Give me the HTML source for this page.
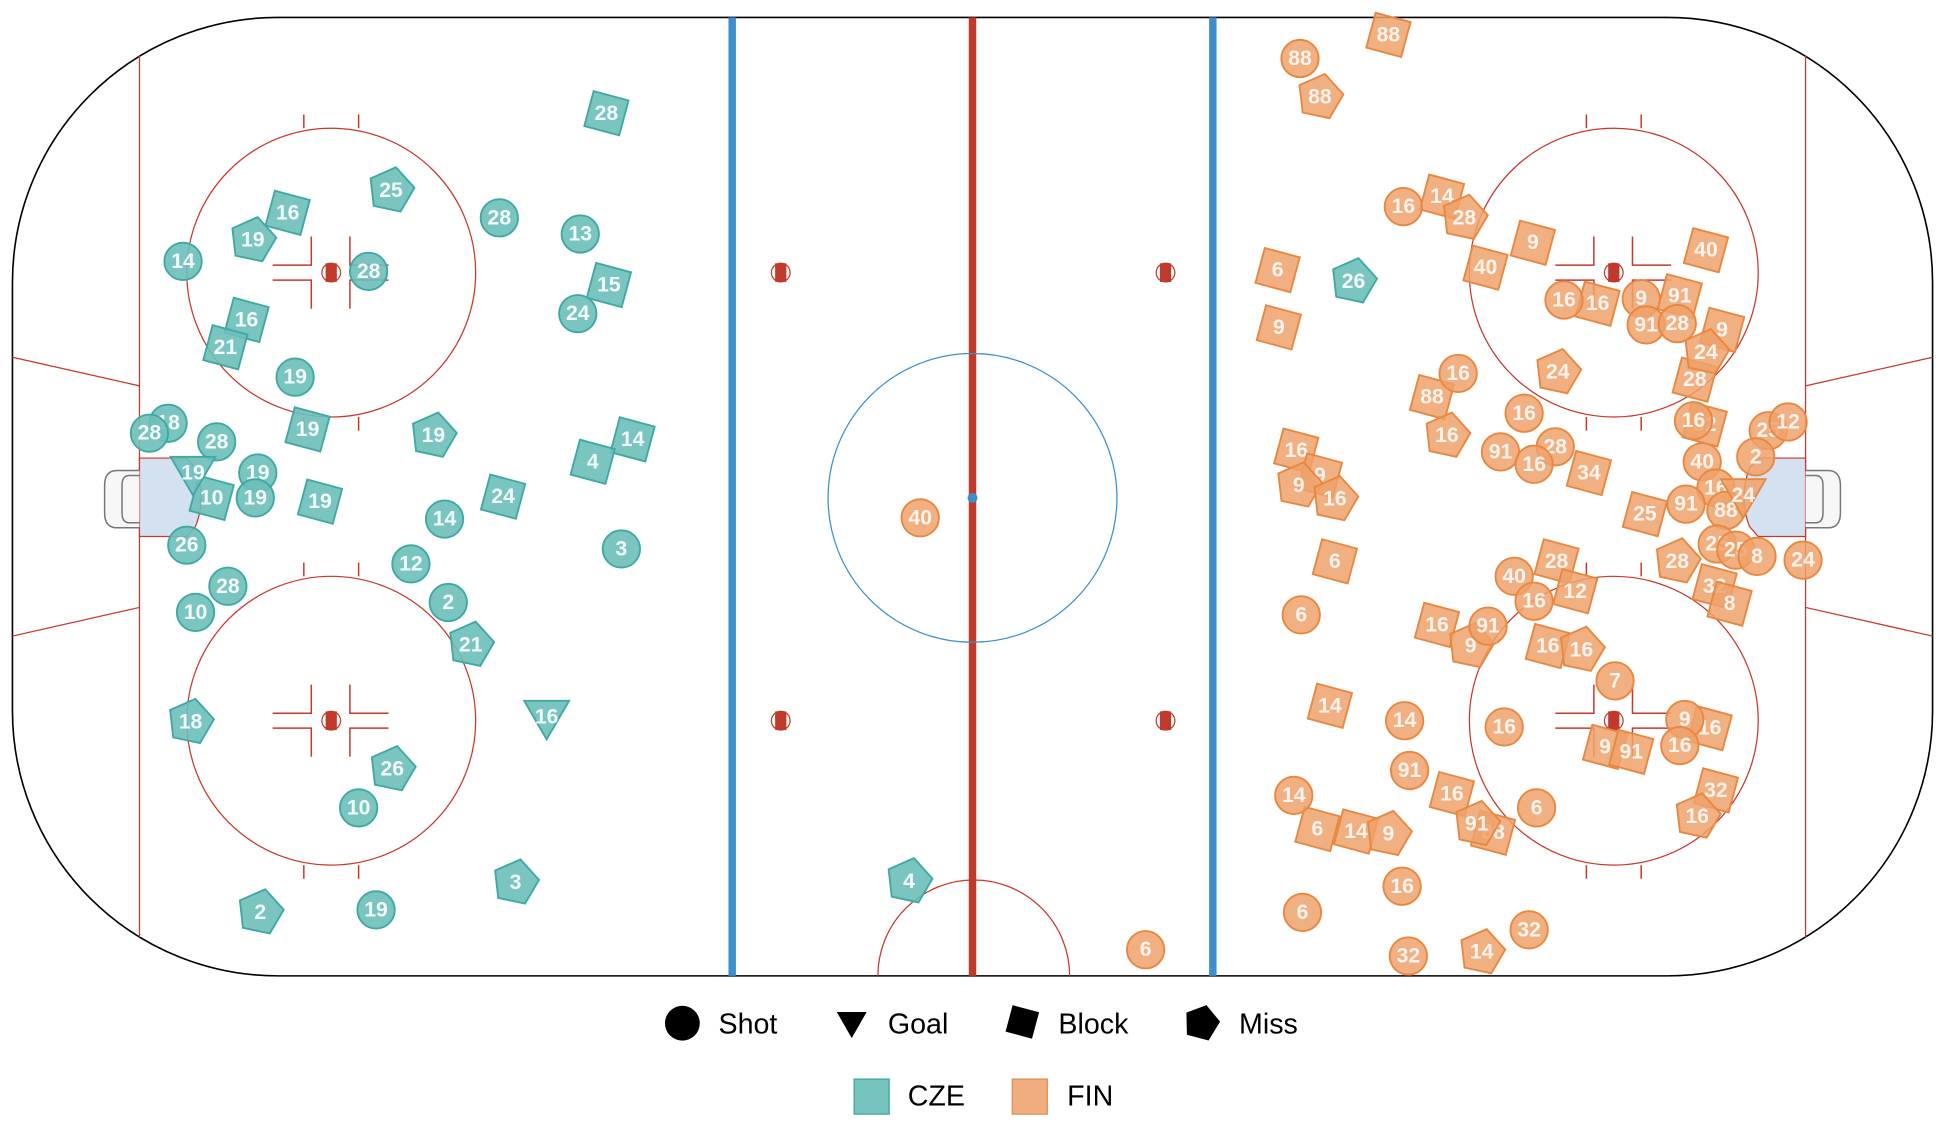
<!DOCTYPE html>
<html><head><meta charset="utf-8"><style>
html,body{margin:0;padding:0;background:#fff;}
svg{display:block;}
text{font-family:"Liberation Sans",sans-serif;}
.m text{fill:#fff;font-size:17px;font-weight:bold;text-anchor:middle;dominant-baseline:central;}
.c{fill:#6dbfba;stroke:#3ea9a3;fill-opacity:.9;}
.f{fill:#eea26b;stroke:#e8873f;fill-opacity:.85;}
.c use,.f use{stroke-width:1.5;}
.c text,.f text{stroke:none;}
.lg{font-size:23px;fill:#000;dominant-baseline:central;}
</style></head><body>
<svg width="1950" height="1124" viewBox="0 0 1566 903" preserveAspectRatio="none" xmlns="http://www.w3.org/2000/svg">
<defs>
<circle id="s" r="15"/>
<rect id="b" x="-14.5" y="-14.5" width="29" height="29" transform="rotate(15)"/>
<polygon id="p" points="0,-19 18,-6 11,15 -11,15 -18,-6" transform="rotate(12)"/>
<polygon id="g" points="-18,-13 18,-13 0,18"/>
</defs>
<rect x="10" y="14" width="1542" height="770" rx="213" ry="213" fill="#fff" stroke="#000" stroke-width="1.3"/>
<g stroke="#c9372c" stroke-width="1" fill="none">
<line x1="112" y1="45" x2="112" y2="753"/>
<line x1="1450" y1="45" x2="1450" y2="753"/>
<line x1="10" y1="287" x2="112" y2="310"/><line x1="10" y1="511" x2="112" y2="488"/>
<line x1="1552" y1="287" x2="1450" y2="310"/><line x1="1552" y1="511" x2="1450" y2="488"/>
<circle cx="266" cy="219" r="116"/><circle cx="266" cy="579" r="116"/>
<circle cx="1296" cy="219" r="116"/><circle cx="1296" cy="579" r="116"/>
<path d="M705,784 A77,77 0 0 1 859,784"/>
</g>
<g stroke="#c9372c" stroke-width="1.2" fill="none">
<path d="M244,92v11M288,92v11M244,695v11M288,695v11M244,452v11M288,452v11M244,335v11M288,335v11"/>
<path d="M1274,92v11M1318,92v11M1274,695v11M1318,695v11M1274,452v11M1318,452v11M1274,335v11M1318,335v11"/>
<path d="M219,213h31v-23M219,225h31v23M312,213h-31v-23M312,225h-31v23"/>
<path d="M219,573h31v-23M219,585h31v23M312,573h-31v-23M312,585h-31v23"/>
<path d="M1249,213h31v-23M1249,225h31v23M1342,213h-31v-23M1342,225h-31v23"/>
<path d="M1249,573h31v-23M1249,585h31v23M1342,573h-31v-23M1342,585h-31v23"/>
</g>
<g fill="#c0392b" stroke="#c0392b">
<g stroke-width="1" fill="none"><circle cx="266" cy="219" r="7.5"/><circle cx="266" cy="579" r="7.5"/><circle cx="1296" cy="219" r="7.5"/><circle cx="1296" cy="579" r="7.5"/><circle cx="627" cy="219" r="7.5"/><circle cx="627" cy="579" r="7.5"/><circle cx="936" cy="219" r="7.5"/><circle cx="936" cy="579" r="7.5"/></g>
<rect x="262" y="212" width="8" height="14"/><rect x="262" y="572" width="8" height="14"/><rect x="1292" y="212" width="8" height="14"/><rect x="1292" y="572" width="8" height="14"/>
<rect x="623" y="212" width="8" height="14"/><rect x="623" y="572" width="8" height="14"/><rect x="932" y="212" width="8" height="14"/><rect x="932" y="572" width="8" height="14"/>
</g>
<path d="M112,368 H150 L157,376 A64,64 0 0 1 157,423 L150,431 H112Z" fill="#d4e1f0" stroke="#c9372c" stroke-width="1"/>
<path d="M1450,368 H1412 L1405,376 A64,64 0 0 0 1405,423 L1412,431 H1450Z" fill="#d4e1f0" stroke="#c9372c" stroke-width="1"/>
<path d="M112,378 H94 Q84,378 84,390 V412 Q84,424 94,424 H112" fill="#f7f7f7" stroke="#777" stroke-width="1.2"/>
<path d="M112,382 H104 Q98,382 98,390 V412 Q98,420 104,420 H112" fill="none" stroke="#777" stroke-width="1.2"/>
<path d="M1450,378 H1468 Q1478,378 1478,390 V412 Q1478,424 1468,424 H1450" fill="#f7f7f7" stroke="#777" stroke-width="1.2"/>
<path d="M1450,382 H1458 Q1464,382 1464,390 V412 Q1464,420 1458,420 H1450" fill="none" stroke="#777" stroke-width="1.2"/>
<rect x="585" y="14" width="6" height="770" fill="#3d8fcc"/>
<rect x="971" y="14" width="6" height="770" fill="#3d8fcc"/>
<rect x="778" y="14" width="6" height="770" fill="#c0392b"/>
<circle cx="781" cy="400" r="116" fill="none" stroke="#3d8fcc" stroke-width="1"/>
<circle cx="781" cy="400" r="4" fill="#3d8fcc"/>

<g class="m c">
<g transform="translate(487,91)"><use href="#b"/><text>28</text></g>
<g transform="translate(231,171)"><use href="#b"/><text>16</text></g>
<g transform="translate(489,229)"><use href="#b"/><text>15</text></g>
<g transform="translate(198,257)"><use href="#b"/><text>16</text></g>
<g transform="translate(181,279)"><use href="#b"/><text>21</text></g>
<g transform="translate(247,345)"><use href="#b"/><text>19</text></g>
<g transform="translate(508,353)"><use href="#b"/><text>14</text></g>
<g transform="translate(476,371)"><use href="#b"/><text>4</text></g>
<g transform="translate(404,399)"><use href="#b"/><text>24</text></g>
<g transform="translate(170,400)"><use href="#b"/><text>10</text></g>
<g transform="translate(257,403)"><use href="#b"/><text>19</text></g>
<g transform="translate(314,153)"><use href="#p"/><text>25</text></g>
<g transform="translate(203,193)"><use href="#p"/><text>19</text></g>
<g transform="translate(348,350)"><use href="#p"/><text>19</text></g>
<g transform="translate(378,518)"><use href="#p"/><text>21</text></g>
<g transform="translate(153,580)"><use href="#p"/><text>18</text></g>
<g transform="translate(315,618)"><use href="#p"/><text>26</text></g>
<g transform="translate(209,733)"><use href="#p"/><text>2</text></g>
<g transform="translate(414,709)"><use href="#p"/><text>3</text></g>
<g transform="translate(730,708)"><use href="#p"/><text>4</text></g>
<g transform="translate(1087,226)"><use href="#p"/><text>26</text></g>
<g transform="translate(147,210)"><use href="#s"/><text>14</text></g>
<g transform="translate(296,218)"><use href="#s"/><text>28</text></g>
<g transform="translate(401,175)"><use href="#s"/><text>28</text></g>
<g transform="translate(466,188)"><use href="#s"/><text>13</text></g>
<g transform="translate(464,252)"><use href="#s"/><text>24</text></g>
<g transform="translate(237,303)"><use href="#s"/><text>19</text></g>
<g transform="translate(135,340)"><use href="#s"/><text>18</text></g>
<g transform="translate(120,348)"><use href="#s"/><text>28</text></g>
<g transform="translate(174,355)"><use href="#s"/><text>28</text></g>
<g transform="translate(207,380)"><use href="#s"/><text>19</text></g>
<g transform="translate(205,400)"><use href="#s"/><text>19</text></g>
<g transform="translate(150,438)"><use href="#s"/><text>26</text></g>
<g transform="translate(357,417)"><use href="#s"/><text>14</text></g>
<g transform="translate(499,441)"><use href="#s"/><text>3</text></g>
<g transform="translate(330,453)"><use href="#s"/><text>12</text></g>
<g transform="translate(360,484)"><use href="#s"/><text>2</text></g>
<g transform="translate(183,471)"><use href="#s"/><text>28</text></g>
<g transform="translate(157,492)"><use href="#s"/><text>10</text></g>
<g transform="translate(288,649)"><use href="#s"/><text>10</text></g>
<g transform="translate(302,731)"><use href="#s"/><text>19</text></g>
<g transform="translate(155,380)"><use href="#g"/><text>19</text></g>
<g transform="translate(439,576)"><use href="#g"/><text>16</text></g>
</g>

<g class="m f">
<g transform="translate(1115,28)"><use href="#b"/><text>88</text></g>
<g transform="translate(1158,158)"><use href="#b"/><text>14</text></g>
<g transform="translate(1231,195)"><use href="#b"/><text>9</text></g>
<g transform="translate(1370,201)"><use href="#b"/><text>40</text></g>
<g transform="translate(1193,215)"><use href="#b"/><text>40</text></g>
<g transform="translate(1026,217)"><use href="#b"/><text>6</text></g>
<g transform="translate(1283,244)"><use href="#b"/><text>16</text></g>
<g transform="translate(1349,238)"><use href="#b"/><text>91</text></g>
<g transform="translate(1383,265)"><use href="#b"/><text>9</text></g>
<g transform="translate(1361,305)"><use href="#b"/><text>28</text></g>
<g transform="translate(1369,341)"><use href="#b"/><text>32</text></g>
<g transform="translate(1041,362)"><use href="#b"/><text>16</text></g>
<g transform="translate(1060,382)"><use href="#b"/><text>9</text></g>
<g transform="translate(1276,380)"><use href="#b"/><text>34</text></g>
<g transform="translate(1321,413)"><use href="#b"/><text>25</text></g>
<g transform="translate(1072,451)"><use href="#b"/><text>6</text></g>
<g transform="translate(1250,451)"><use href="#b"/><text>28</text></g>
<g transform="translate(1265,475)"><use href="#b"/><text>12</text></g>
<g transform="translate(1377,471)"><use href="#b"/><text>32</text></g>
<g transform="translate(1389,485)"><use href="#b"/><text>8</text></g>
<g transform="translate(1154,502)"><use href="#b"/><text>16</text></g>
<g transform="translate(1243,519)"><use href="#b"/><text>16</text></g>
<g transform="translate(1068,567)"><use href="#b"/><text>14</text></g>
<g transform="translate(1289,600)"><use href="#b"/><text>9</text></g>
<g transform="translate(1310,604)"><use href="#b"/><text>91</text></g>
<g transform="translate(1373,585)"><use href="#b"/><text>16</text></g>
<g transform="translate(1378,635)"><use href="#b"/><text>32</text></g>
<g transform="translate(1166,638)"><use href="#b"/><text>16</text></g>
<g transform="translate(1058,666)"><use href="#b"/><text>6</text></g>
<g transform="translate(1089,668)"><use href="#b"/><text>14</text></g>
<g transform="translate(1199,669)"><use href="#b"/><text>88</text></g>
<g transform="translate(1060,78)"><use href="#p"/><text>88</text></g>
<g transform="translate(1176,175)"><use href="#p"/><text>28</text></g>
<g transform="translate(1251,299)"><use href="#p"/><text>24</text></g>
<g transform="translate(1027,263)"><use href="#b"/><text>9</text></g>
<g transform="translate(1370,283)"><use href="#p"/><text>24</text></g>
<g transform="translate(1150,319)"><use href="#b"/><text>88</text></g>
<g transform="translate(1162,350)"><use href="#p"/><text>16</text></g>
<g transform="translate(1043,390)"><use href="#p"/><text>9</text></g>
<g transform="translate(1072,401)"><use href="#p"/><text>16</text></g>
<g transform="translate(1347,451)"><use href="#p"/><text>28</text></g>
<g transform="translate(1181,519)"><use href="#p"/><text>9</text></g>
<g transform="translate(1270,522)"><use href="#p"/><text>16</text></g>
<g transform="translate(1363,656)"><use href="#p"/><text>16</text></g>
<g transform="translate(1115,670)"><use href="#p"/><text>9</text></g>
<g transform="translate(1186,662)"><use href="#p"/><text>91</text></g>
<g transform="translate(1190,765)"><use href="#p"/><text>14</text></g>
<g transform="translate(1044,47)"><use href="#s"/><text>88</text></g>
<g transform="translate(1127,166)"><use href="#s"/><text>16</text></g>
<g transform="translate(1256,241)"><use href="#s"/><text>16</text></g>
<g transform="translate(1318,240)"><use href="#s"/><text>9</text></g>
<g transform="translate(1322,261)"><use href="#s"/><text>91</text></g>
<g transform="translate(1347,260)"><use href="#s"/><text>28</text></g>
<g transform="translate(1171,300)"><use href="#s"/><text>16</text></g>
<g transform="translate(1224,332)"><use href="#s"/><text>16</text></g>
<g transform="translate(1205,363)"><use href="#s"/><text>91</text></g>
<g transform="translate(1249,359)"><use href="#s"/><text>28</text></g>
<g transform="translate(1232,373)"><use href="#s"/><text>16</text></g>
<g transform="translate(1360,338)"><use href="#s"/><text>16</text></g>
<g transform="translate(1367,371)"><use href="#s"/><text>40</text></g>
<g transform="translate(1420,346)"><use href="#s"/><text>25</text></g>
<g transform="translate(1436,339)"><use href="#s"/><text>12</text></g>
<g transform="translate(1410,367)"><use href="#s"/><text>2</text></g>
<g transform="translate(1378,392)"><use href="#s"/><text>16</text></g>
<g transform="translate(1354,405)"><use href="#s"/><text>91</text></g>
<g transform="translate(1386,410)"><use href="#s"/><text>88</text></g>
<g transform="translate(1379,437)"><use href="#s"/><text>25</text></g>
<g transform="translate(1394,442)"><use href="#s"/><text>25</text></g>
<g transform="translate(1411,447)"><use href="#s"/><text>8</text></g>
<g transform="translate(1448,450)"><use href="#s"/><text>24</text></g>
<g transform="translate(1216,463)"><use href="#s"/><text>40</text></g>
<g transform="translate(1232,483)"><use href="#s"/><text>16</text></g>
<g transform="translate(1195,503)"><use href="#s"/><text>91</text></g>
<g transform="translate(1045,494)"><use href="#s"/><text>6</text></g>
<g transform="translate(1297,547)"><use href="#s"/><text>7</text></g>
<g transform="translate(1208,584)"><use href="#s"/><text>16</text></g>
<g transform="translate(1128,579)"><use href="#s"/><text>14</text></g>
<g transform="translate(1353,578)"><use href="#s"/><text>9</text></g>
<g transform="translate(1349,599)"><use href="#s"/><text>16</text></g>
<g transform="translate(1132,619)"><use href="#s"/><text>91</text></g>
<g transform="translate(1039,639)"><use href="#s"/><text>14</text></g>
<g transform="translate(1234,649)"><use href="#s"/><text>6</text></g>
<g transform="translate(1126,712)"><use href="#s"/><text>16</text></g>
<g transform="translate(1046,733)"><use href="#s"/><text>6</text></g>
<g transform="translate(1228,747)"><use href="#s"/><text>32</text></g>
<g transform="translate(1131,768)"><use href="#s"/><text>32</text></g>
<g transform="translate(920,763)"><use href="#s"/><text>6</text></g>
<g transform="translate(739,416)"><use href="#s"/><text>40</text></g>
<g transform="translate(1400,398)"><use href="#g"/><text>24</text></g>
</g>

<circle cx="548" cy="822" r="14" fill="#000"/>
<text class="lg" x="577" y="823">Shot</text>
<polygon points="672,813 696,813 684,834" fill="#000"/>
<text class="lg" x="713" y="823">Goal</text>
<rect x="810" y="810" width="22" height="22" fill="#000" transform="rotate(15 821 821)"/>
<text class="lg" x="850" y="823">Block</text>
<polygon points="0,-15 14,-5 9,12 -9,12 -14,-5" transform="translate(965,822) rotate(15)" fill="#000"/>
<text class="lg" x="995" y="823">Miss</text>
<rect x="686" y="867" width="28" height="28" fill="#76c3bf" stroke="#4aaaa5" stroke-width="1.2"/>
<text class="lg" x="729" y="881">CZE</text>
<rect x="813" y="867" width="28" height="28" fill="#f0ae80" stroke="#e8915a" stroke-width="1.2"/>
<text class="lg" x="857" y="881">FIN</text>
</svg>
</body></html>
